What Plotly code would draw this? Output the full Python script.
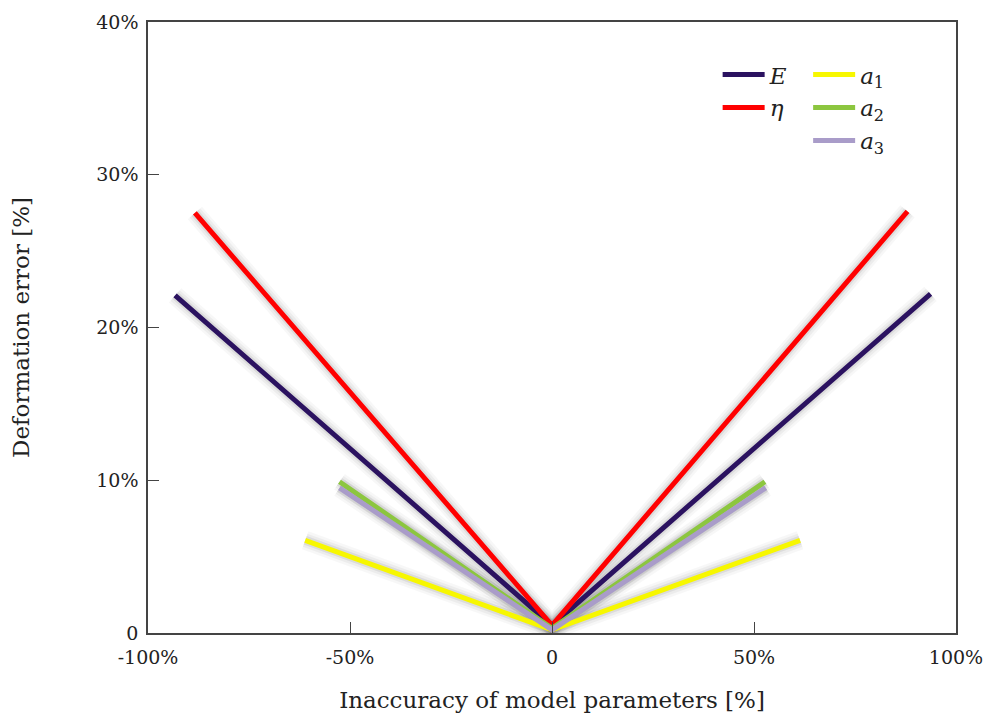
import plotly.graph_objects as go

# Data
x_E = [-93.3, 0, 93.7]
y_E = [22.1, 0.5, 22.2]
x_eta = [-88.4, 0, 88.0]
y_eta = [27.5, 0.5, 27.6]
x_a1 = [-61.1, 0, 61.4]
y_a1 = [6.07, 0.2, 6.07]
x_a2 = [-52.6, 0, 52.7]
y_a2 = [9.9, 0.3, 9.9]
x_a3 = [-52.6, 0, 52.9]
y_a3 = [9.5, 0.2, 9.5]

x_tickvals = [-100, -50, 0, 50, 100]
x_ticktext = ["-100%", "-50%", "0", "50%", "100%"]
y_tickvals = [0, 10, 20, 30, 40]
y_ticktext = ["0", "10%", "20%", "30%", "40%"]

series = [
    ("<i>E</i>", x_E, y_E, "#2b1260", "legend"),
    ("<i>η</i>", x_eta, y_eta, "#ff0000", "legend"),
    ("<i>a</i><sub>1</sub>", x_a1, y_a1, "#f7f700", "legend2"),
    ("<i>a</i><sub>2</sub>", x_a2, y_a2, "#8cc63f", "legend2"),
    ("<i>a</i><sub>3</sub>", x_a3, y_a3, "#a99cc9", "legend2"),
]

FONT = "DejaVu Serif"
fig = go.Figure()

# soft glow behind lines
for name, xs, ys, col, lg in series:
    for w, a in [(19, 0.03), (14, 0.045), (9, 0.07)]:
        fig.add_trace(go.Scatter(x=xs, y=ys, mode="lines",
                                 line=dict(color=f"rgba(0,0,0,{a})", width=w),
                                 showlegend=False, hoverinfo="skip"))

for name, xs, ys, col, lg in series:
    fig.add_trace(go.Scatter(x=xs, y=ys, mode="lines", name=name,
                             line=dict(color=col, width=5),
                             legend=lg))

axis_common = dict(showline=True, linecolor="#444", linewidth=1.5, mirror=True,
                   ticks="inside", ticklen=11, tickcolor="#444", tickwidth=1,
                   showgrid=False, zeroline=False, automargin=False,
                   tickfont=dict(family=FONT, size=19, color="#222"))

legend_common = dict(xanchor="left", yanchor="top", itemwidth=42,
                     bgcolor="rgba(0,0,0,0)",
                     font=dict(family=FONT, size=23, color="#222"))

fig.update_layout(
    width=985, height=713,
    margin=dict(l=148, r=29, t=22, b=80),
    paper_bgcolor="white", plot_bgcolor="white",
    font=dict(family=FONT, color="#222"),
    xaxis=dict(range=[-100, 100], tickvals=x_tickvals, ticktext=x_ticktext,
               ticklabelstandoff=6,
               title=dict(text="Inaccuracy of model parameters [%]",
                          font=dict(family=FONT, size=23, color="#222"), standoff=25),
               **axis_common),
    yaxis=dict(range=[0, 40], tickvals=y_tickvals, ticktext=y_ticktext,
               ticklabelstandoff=4,
               title=dict(text="Deformation error [%]",
                          font=dict(family=FONT, size=23, color="#222"), standoff=60),
               **axis_common),
    legend=dict(x=0.705, y=0.949, **legend_common),
    legend2=dict(x=0.817, y=0.949, **legend_common),
)

fig.write_html("out.html", config={"displayModeBar": False},
               post_script="document.body.style.margin='0';document.body.style.overflow='hidden';")
